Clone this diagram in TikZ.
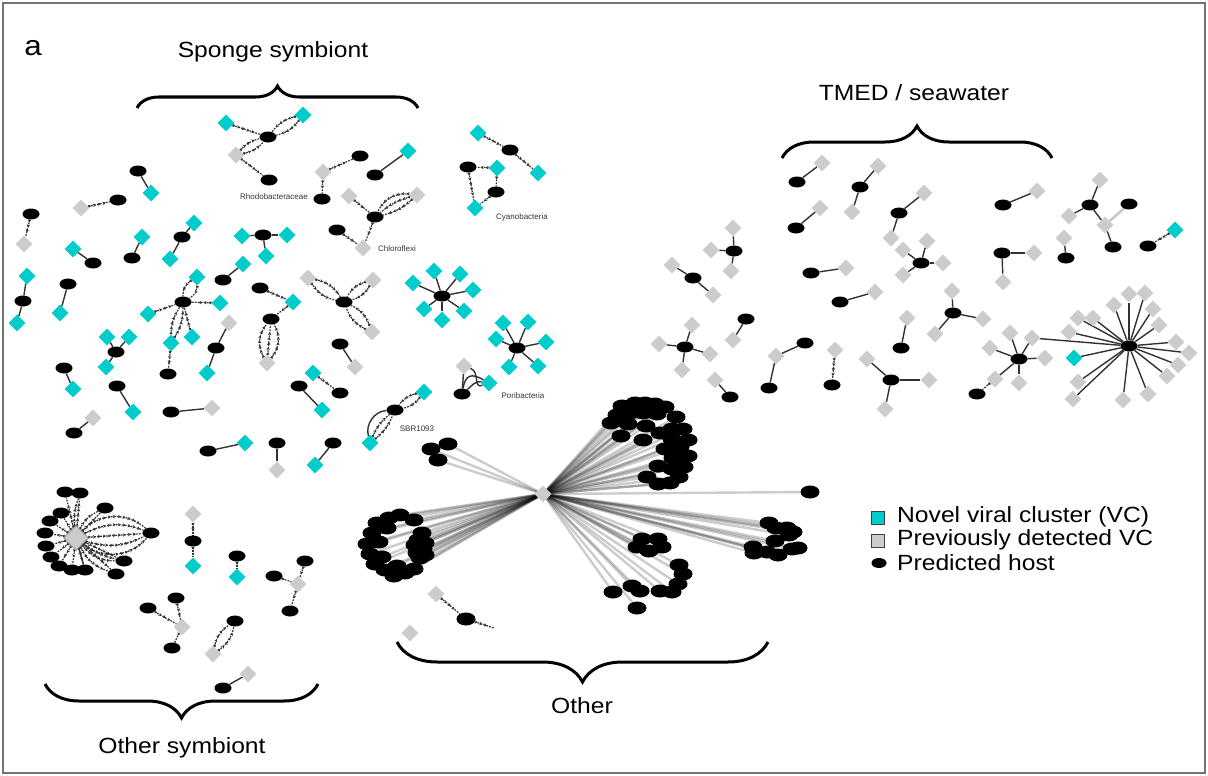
\documentclass[tikz,border=0pt]{standalone}
\usepackage{fontspec}
\setmainfont{Liberation Sans}
\newfontfamily\lab[FakeStretch=1.12]{Liberation Sans}
\usetikzlibrary{shapes.geometric,arrows.meta,decorations.markings,decorations.pathreplacing}
\pgfdeclarelayer{bg}
\pgfsetlayers{bg,main}
\definecolor{vc}{RGB}{0,204,204}
\definecolor{pv}{RGB}{204,204,204}
\definecolor{ed}{RGB}{50,50,50}
\tikzset{
  cy/.style={diamond, fill=vc, minimum width=17pt, minimum height=17pt, inner sep=0pt},
  gy/.style={cy, fill=pv},
  ho/.style={ellipse, fill=black, minimum width=17pt, minimum height=11pt, inner sep=0pt},
  hb/.style={ho, minimum width=19pt, minimum height=13pt},
  ln/.style={draw=ed, line width=1.4pt},
  lnl/.style={draw=black!22, line width=2.6pt},
  da/.style={draw=ed, line width=1.2pt, dash pattern=on 1.8pt off 1.2pt,
    postaction={decorate},
    decoration={markings, mark=between positions 3pt and -3pt step 5pt with {\arrow{Stealth[length=3pt,width=3.4pt]}}}},
  lg/.style={draw=black, draw opacity=0.2, line width=2.4pt},
  tag/.style={font=\fontsize{8}{9}\selectfont, text=black!80, inner sep=0pt},
  ttl/.style={font=\lab\fontsize{22}{24}\selectfont, inner sep=0pt},
  brc/.style={draw=black, line width=3pt, decorate},
}
\newcommand\twoedge[3][18]{\draw[da] (#2) to[bend left=#1] (#3); \draw[da] (#2) to[bend right=#1] (#3);}
\begin{document}
\begin{tikzpicture}[x=1pt,y=-1pt]
\useasboundingbox (0,0) rectangle (1208,776);
\draw[draw=black!55, line width=1.2pt] (3,3) rectangle (1205,773);

% ---------- titles and braces ----------
\node[ttl, font=\lab\fontsize{28}{30}\selectfont] (la) at (33,48) {a};
\node[ttl] (ls) at (273,52) {Sponge symbiont};
\node[ttl] (lt) at (914,93) {TMED / seawater};
\node[ttl] (lo) at (582,706) {Other};
\node[ttl] (los) at (182,748) {Other symbiont};
\draw[brc, decoration={brace, amplitude=22pt}] (137,108) -- (418,108);
\draw[brc, decoration={brace, amplitude=32pt}] (782,158) -- (1052,158);
\draw[brc, decoration={brace, amplitude=40pt}] (768,642) -- (397,642);
\draw[brc, decoration={brace, amplitude=34pt}] (318,684) -- (45,684);

% ---------- legend ----------
\node[draw=black!75, line width=0.8pt, fill=vc, minimum size=13pt, inner sep=0pt] (k1) at (878,518) {};
\node[draw=black!75, line width=0.8pt, fill=pv, minimum size=13pt, inner sep=0pt] (k2) at (878,541) {};
\node[ho, minimum width=15pt, minimum height=10pt] (k3) at (879,563) {};
\node[ttl, anchor=west] (kt1) at (897,517) {Novel viral cluster (VC)};
\node[ttl, anchor=west] (kt2) at (897,540) {Previously detected VC};
\node[ttl, anchor=west] (kt3) at (897,563) {Predicted host};

% ---------- sponge symbiont ----------
\node[cy] (c1) at (226,123) {};
\node[ho] (h1) at (268,137) {};
\node[cy] (c2) at (303,115) {};
\node[gy] (g1) at (236,155) {};
\node[ho] (h2) at (269,180) {};
\node[tag] (tr) at (274,197) {Rhodobacteraceae};
\node[ho] (h3) at (138,171) {};
\node[cy] (c3) at (151,193) {};
\node[gy] (g2) at (81,208) {};
\node[ho] (h4) at (118,200) {};
\node[ho] (h5) at (31,214) {};
\node[gy] (g3) at (24,244) {};
\node[cy] (c4) at (73,249) {};
\node[ho] (h6) at (93,263) {};
\node[cy] (c5) at (142,237) {};
\node[ho] (h7) at (132,258) {};
\node[cy] (c6) at (194,223) {};
\node[ho] (h8) at (182,237) {};
\node[cy] (c7) at (170,259) {};
\node[ho] (h9) at (263,235) {};
\node[cy] (c8) at (242,236) {};
\node[cy] (c9) at (287,235) {};
\node[cy] (c10) at (266,256) {};
\node[cy] (c11) at (27,276) {};
\node[ho] (h10) at (23,301) {};
\node[cy] (c12) at (17,323) {};
\node[ho] (h11) at (68,284) {};
\node[cy] (c13) at (60,313) {};
\node[ho] (h12) at (183,302) {};
\node[cy] (c14) at (197,277) {};
\node[cy] (c15) at (220,303) {};
\node[cy] (c16) at (148,314) {};
\node[cy] (c17) at (171,343) {};
\node[cy] (c18) at (192,337) {};
\node[ho] (h13) at (168,374) {};
\node[cy] (c19) at (243,264) {};
\node[ho] (h14) at (223,280) {};
\node[ho] (h15) at (260,288) {};
\node[cy] (c20) at (293,302) {};
\node[ho] (h16) at (271,319) {};
\node[gy] (g4) at (267,363) {};
\node[gy] (g5) at (229,323) {};
\node[ho] (h17) at (216,348) {};
\node[cy] (c21) at (207,373) {};
\node[ho] (h18) at (116,352) {};
\node[cy] (c22) at (107,337) {};
\node[cy] (c23) at (129,337) {};
\node[cy] (c24) at (106,367) {};
\node[ho] (h19) at (64,368) {};
\node[cy] (c25) at (73,389) {};
\node[ho] (h20) at (117,386) {};
\node[cy] (c26) at (133,412) {};
\node[gy] (g6) at (93,418) {};
\node[ho] (h21) at (74,433) {};
\node[ho] (h22) at (171,412) {};
\node[gy] (g7) at (212,408) {};
\node[ho] (h23) at (208,451) {};
\node[cy] (c27) at (245,443) {};
\node[ho] (h24) at (277,443) {};
\node[gy] (g8) at (277,470) {};
\node[gy] (g9) at (323,172) {};
\node[ho] (h25) at (360,156) {};
\node[ho] (h26) at (322,199) {};
\node[ho] (h27) at (375,175) {};
\node[cy] (c28) at (408,151) {};
\node[gy] (g10) at (349,196) {};
\node[ho] (h28) at (375,217) {};
\node[gy] (g11) at (417,195) {};
\node[gy] (g12) at (363,248) {};
\node[ho] (h29) at (337,230) {};
\node[tag] (tc) at (397,249) {Chloroflexi};
\node[cy] (c29) at (478,133) {};
\node[ho] (h30) at (510,150) {};
\node[cy] (c30) at (538,173) {};
\node[ho] (h31) at (468,167) {};
\node[cy] (c31) at (497,168) {};
\node[ho] (h32) at (496,192) {};
\node[cy] (c32) at (475,208) {};
\node[tag] (tcy) at (522,217) {Cyanobacteria};
\node[ho] (h33) at (344,302) {};
\node[gy] (g13) at (308,278) {};
\node[gy] (g14) at (373,280) {};
\node[gy] (g15) at (372,332) {};
\node[ho] (h34) at (340,344) {};
\node[gy] (g16) at (355,367) {};
\node[cy] (c33) at (313,373) {};
\node[ho] (h35) at (340,393) {};
\node[ho] (h36) at (299,386) {};
\node[cy] (c34) at (322,410) {};
\node[ho] (h37) at (333,443) {};
\node[cy] (c35) at (315,465) {};
\node[ho] (h38) at (442,296) {};
\node[ho] (h39) at (517,348) {};
\node[gy] (g17) at (464,366) {};
\node[ho] (h40) at (462,394) {};
\node[cy] (c49) at (489,383) {};
\node[tag] (tp) at (523,396) {Poribacteria};
\node[ho] (h41) at (395,410) {};
\node[cy] (c50) at (424,392) {};
\node[cy] (c51) at (370,443) {};
\node[tag] (tsb) at (417,429) {SBR1093};

% star hosts with novel clusters
\foreach \x/\y [count=\i] in {413/283, 434/271, 460/274, 473/290, 464/311, 442/320, 424/309} {
  \node[cy] (pa\i) at (\x,\y) {};
  \begin{pgfonlayer}{bg}\draw[ln] (h38) -- (pa\i);\end{pgfonlayer}
}
\foreach \x/\y [count=\i] in {503/323, 528/322, 496/339, 546/342, 509/367, 538/366} {
  \node[cy] (pb\i) at (\x,\y) {};
  \begin{pgfonlayer}{bg}\draw[ln] (h39) -- (pb\i);\end{pgfonlayer}
}

% ---------- TMED / seawater ----------
\node[ho] (t1) at (797,182) {};  \node[gy] (tg1) at (822,163) {};
\node[ho] (t2) at (796,228) {};  \node[gy] (tg2) at (820,208) {};
\node[ho] (t3) at (860,187) {};  \node[gy] (tg3) at (878,166) {}; \node[gy] (tg4) at (852,212) {};
\node[ho] (t4) at (899,213) {};  \node[gy] (tg5) at (924,193) {}; \node[gy] (tg6) at (891,238) {};
\node[ho] (t5) at (734,251) {};  \node[gy] (tg7) at (733,228) {}; \node[gy] (tg8) at (711,250) {}; \node[gy] (tg9) at (731,271) {};
\node[gy] (tg10) at (672,265) {}; \node[ho] (t6) at (693,278) {}; \node[gy] (tg11) at (713,295) {};
\node[ho] (t7) at (811,273) {};  \node[gy] (tg12) at (846,268) {};
\node[ho] (t8) at (921,263) {};  \node[gy] (tg13) at (903,250) {}; \node[gy] (tg14) at (927,241) {}; \node[gy] (tg15) at (903,275) {}; \node[gy] (tg16) at (943,263) {};
\node[ho] (t9) at (840,302) {};  \node[gy] (tg17) at (875,292) {};
\node[gy] (tg18) at (952,291) {}; \node[ho] (t10) at (953,313) {}; \node[gy] (tg19) at (935,334) {}; \node[gy] (tg20) at (983,319) {};
\node[ho] (t11) at (685,347) {}; \node[gy] (tg21) at (692,325) {}; \node[gy] (tg22) at (659,344) {}; \node[gy] (tg23) at (710,354) {}; \node[gy] (tg24) at (682,370) {};
\node[ho] (t12) at (746,319) {}; \node[gy] (tg25) at (733,340) {};
\node[gy] (tg26) at (715,380) {}; \node[ho] (t13) at (730,397) {};
\node[ho] (t14) at (805,343) {}; \node[gy] (tg27) at (776,356) {}; \node[ho] (t15) at (769,388) {};
\node[gy] (tg28) at (835,350) {}; \node[ho] (t16) at (832,385) {};
\node[gy] (tg29) at (907,318) {}; \node[ho] (t17) at (901,348) {};
\node[ho] (t18) at (891,380) {}; \node[gy] (tg30) at (867,359) {}; \node[gy] (tg31) at (929,380) {}; \node[gy] (tg32) at (885,409) {};
\node[ho] (t19) at (1003,205) {}; \node[gy] (tg33) at (1037,191) {};
\node[ho] (t20) at (1090,205) {}; \node[gy] (tg34) at (1100,180) {}; \node[gy] (tg35) at (1069,216) {}; \node[gy] (tg36) at (1105,225) {};
\node[ho] (t21) at (1129,204) {}; \node[ho] (t22) at (1113,247) {};
\node[gy] (tg37) at (1064,238) {}; \node[ho] (t23) at (1066,258) {};
\node[ho] (t24) at (1148,246) {}; \node[cy] (tc1) at (1175,230) {};
\node[ho] (t25) at (1002,253) {}; \node[gy] (tg38) at (1034,253) {}; \node[gy] (tg39) at (1003,282) {};
\node[ho] (t26) at (1019,359) {};
\node[gy] (tg40) at (1010,333) {}; \node[gy] (tg41) at (990,348) {}; \node[gy] (tg42) at (1032,338) {};
\node[gy] (tg43) at (1045,358) {}; \node[gy] (tg44) at (1019,383) {}; \node[gy] (tg45) at (995,379) {};
\node[ho] (t27) at (977,394) {};
\node[ho] (t28) at (1129,346) {};
\node[cy] (tc2) at (1074,358) {};
\foreach \x/\y [count=\i] in {1114/305, 1129/294, 1145/293, 1153/309, 1159/325, 1078/318, 1093/318, 1069/332,
    1176/342, 1189/353, 1178/365, 1167/376, 1078/382, 1073/399, 1123/400, 1148/394} {
  \node[gy] (s\i) at (\x,\y) {};
  \begin{pgfonlayer}{bg}\draw[ln] (t28) -- (s\i);\end{pgfonlayer}
}

% ---------- other symbiont ----------
\node[ho] (ob1) at (193,541) {}; \node[gy] (og1) at (193,514) {}; \node[cy] (oc1) at (193,566) {};
\node[ho] (ob2) at (237,556) {}; \node[cy] (oc2) at (237,577) {};
\node[gy] (og3) at (298,584) {}; \node[ho] (ob3) at (274,576) {}; \node[ho] (ob4) at (305,561) {}; \node[ho] (ob5) at (290,611) {};
\node[gy] (og4) at (182,627) {}; \node[ho] (ob6) at (148,608) {}; \node[ho] (ob7) at (176,598) {}; \node[ho] (ob8) at (172,648) {};
\node[gy] (og5) at (213,654) {}; \node[ho] (ob9) at (235,621) {};
\node[gy] (og6) at (248,674) {}; \node[ho] (ob10) at (223,688) {};
\node[gy, minimum width=25pt, minimum height=25pt, draw=black!45, line width=0.6pt] (osh) at (76,538) {};
\foreach \x/\y [count=\i] in {65/492, 80/493, 105/508, 61/513, 50/521, 45/533, 46/546, 51/557,
    59/566, 72/570, 85/570, 116/574, 124/561, 151/533} {
  \node[ho] (oa\i) at (\x,\y) {};
  \begin{pgfonlayer}{bg}\draw[da] (osh) -- (oa\i);\end{pgfonlayer}
}

% ---------- other ----------
\node[gy] (xh) at (543,494) {};
\foreach \x/\y [count=\i] in {431/449, 448/444, 438/460,
    400/515, 389/518, 414/520, 377/523, 387/528, 372/533, 379/542, 367/544, 370/554, 382/557,
    375/564, 385/570, 397/566, 394/576, 405/573, 414/569,
    422/533, 418/540, 425/543, 415/545, 423/549, 417/553, 425/555, 420/558,
    622/406, 635/403, 645/403, 655/404, 665/407, 617/415, 630/413, 643/413, 657/414, 676/417,
    611/423, 628/424, 646/426, 660/433, 672/429, 683/429, 621/436, 643/440, 672/439, 688/440,
    665/449, 680/447, 673/458, 688/456, 658/466, 672/469, 684/467, 647/477, 658/484, 670/483, 679/477,
    810/492,
    769/523, 776/528, 787/528, 793/532, 789/535, 775/541, 753/547, 754/553, 767/552, 778/555, 792/549, 798/548,
    642/539, 658/539, 637/547, 649/551, 662/547,
    679/565, 683/574, 678/584, 672/592, 660/591, 640/591, 632/586, 613/592, 637/608} {
  \node[hb] (x\i) at (\x,\y) {};
  \begin{pgfonlayer}{bg}\draw[lg] (xh) -- (x\i);\end{pgfonlayer}
}
\node[gy] (xg1) at (436,594) {};
\node[hb] (xb1) at (466,619) {};
\coordinate (xe1) at (494,628);
\node[gy] (xg2) at (410,633) {};

% ---------- connectors ----------
\begin{pgfonlayer}{bg}
% sponge symbiont
\draw[da] (c1) -- (h1);
\twoedge[20]{c2}{h1}
\twoedge[18]{g1}{h1}
\draw[da] (g1) -- (h2);
\draw[ln] (h3) -- (c3);
\draw[da] (g2) -- (h4);
\draw[da] (h5) -- (g3);
\draw[ln] (c4) -- (h6);
\draw[ln] (c5) -- (h7);
\draw[ln] (c6) -- (h8) -- (c7);
\draw[ln] (h9) -- (c8); \draw[ln] (h9) -- (c9); \draw[ln] (h9) -- (c10);
\draw[ln] (c11) -- (h10) -- (c12);
\draw[ln] (h11) -- (c13);
\twoedge[30]{c14}{h12}
\draw[da] (c15) -- (h12);
\draw[da] (c16) -- (h12);
\twoedge[16]{c17}{h12}
\draw[da] (c18) -- (h12);
\draw[da] (c17) -- (h13);
\draw[ln] (c19) -- (h14);
\draw[da] (h15) -- (c20);
\draw[da] (c20) -- (h16);
\draw[da] (g4) -- (h16);
\twoedge[35]{g4}{h16}
\draw[ln] (g5) -- (h17) -- (c21);
\draw[ln] (h18) -- (c22); \draw[ln] (h18) -- (c23); \draw[ln] (h18) -- (c24);
\draw[ln] (h19) -- (c25);
\draw[ln] (h20) -- (c26);
\draw[ln] (g6) -- (h21);
\draw[ln] (h22) -- (g7);
\draw[ln] (h23) -- (c27);
\draw[ln] (h24) -- (g8);
\draw[da] (g9) -- (h25);
\draw[da] (g9) -- (h26);
\draw[ln] (h27) -- (c28);
\draw[da] (g10) -- (h28);
\draw[da] (g11) to[bend right=35] (h28);
\draw[da] (g11) to[bend right=12] (h28);
\draw[da] (g11) to[bend left=14] (h28);
\draw[da] (h28) -- (g12);
\draw[da] (h29) -- (g12);
\draw[da] (c29) -- (h30);
\draw[da] (h30) -- (c30);
\draw[da] (c31) -- (h31);
\draw[da] (c31) -- (h32);
\draw[da] (h31) -- (c32);
\draw[da] (h32) -- (c32);
\twoedge[22]{g13}{h33}
\twoedge[22]{g14}{h33}
\twoedge[22]{g15}{h33}
\draw[ln] (h34) -- (g16);
\draw[da] (c33) -- (h35);
\draw[ln] (h36) -- (c34);
\draw[ln] (h37) -- (c35);
\draw[ln] (g17) -- (h40);
\draw[ln] (h40) to[out=80, in=150, looseness=1.6] (c49);
\draw[ln] (h40) to[out=40, in=170] (c49);
\draw[ln] (g17) to[out=-20, in=200, looseness=1.3] (c49);
\twoedge[20]{c50}{h41}
\draw[ln] (c51) to[bend left=50] (h41);
\twoedge[14]{c51}{h41}
% TMED / seawater
\draw[ln] (t1) -- (tg1);
\draw[ln] (t2) -- (tg2);
\draw[ln] (t3) -- (tg3); \draw[ln] (t3) -- (tg4);
\draw[ln] (t4) -- (tg5); \draw[ln] (t4) -- (tg6);
\draw[ln] (t5) -- (tg7); \draw[ln] (t5) -- (tg8); \draw[ln] (t5) -- (tg9);
\draw[ln] (tg10) -- (t6) -- (tg11);
\draw[ln] (t7) -- (tg12);
\draw[ln] (t8) -- (tg13); \draw[ln] (t8) -- (tg14); \draw[ln] (t8) -- (tg15); \draw[ln] (t8) -- (tg16);
\draw[ln] (t9) -- (tg17);
\draw[ln] (tg18) -- (t10); \draw[ln] (tg19) -- (t10); \draw[ln] (t10) -- (tg20);
\draw[ln] (t11) -- (tg21); \draw[ln] (t11) -- (tg22); \draw[ln] (t11) -- (tg23); \draw[ln] (t11) -- (tg24);
\draw[ln] (t12) -- (tg25);
\draw[ln] (tg26) -- (t13);
\draw[ln] (t14) -- (tg27) -- (t15);
\draw[da] (tg28) -- (t16);
\draw[ln] (tg29) -- (t17);
\draw[ln] (t18) -- (tg30); \draw[ln] (t18) -- (tg31); \draw[ln] (t18) -- (tg32);
\draw[ln] (t19) -- (tg33);
\draw[ln] (t20) -- (tg34); \draw[ln] (t20) -- (tg35); \draw[ln] (t20) -- (tg36);
\draw[lnl] (tg36) -- (t21);
\draw[ln] (tg36) -- (t22);
\draw[ln] (tg37) -- (t23);
\draw[da] (tc1) -- (t24);
\draw[ln] (t25) -- (tg38); \draw[ln] (t25) -- (tg39);
\draw[ln] (t26) -- (tg40); \draw[ln] (t26) -- (tg41); \draw[ln] (t26) -- (tg42);
\draw[ln] (t26) -- (tg43); \draw[ln] (t26) -- (tg44); \draw[ln] (t26) -- (tg45);
\draw[da] (tg45) -- (t27);
\draw[ln] (t28) -- (tg42);
\draw[ln] (t28) -- (tc2);
% other symbiont
\draw[da] (og1) -- (ob1); \draw[da] (ob1) -- (oc1);
\draw[da] (ob2) -- (oc2);
\draw[da] (ob3) -- (og3); \draw[da] (ob4) -- (og3); \draw[da] (og3) -- (ob5);
\draw[da] (ob6) -- (og4); \draw[da] (ob7) -- (og4); \draw[da] (og4) -- (ob8);
\twoedge[22]{og5}{ob9}
\draw[ln] (og6) -- (ob10);
\draw[ln] (osh) -- (oa11);
\draw[da] (osh) to[bend left=20] (oa3);
\draw[da] (osh) to[bend left=12] (oa2);
\draw[da] (osh) to[bend left=45] (oa14);
\draw[da] (osh) to[bend left=24] (oa14);
\draw[da] (osh) to[bend right=22] (oa14);
\draw[da] (osh) to[bend right=45] (oa14);
\draw[da] (osh) to[bend right=25] (oa13);
\draw[da] (osh) to[bend right=12] (oa13);
\draw[da] (osh) to[bend right=22] (oa12);
% other
\draw[da] (xg1) -- (xb1);
\draw[da] (xb1) -- (xe1);
\end{pgfonlayer}
\end{tikzpicture}
\end{document}
